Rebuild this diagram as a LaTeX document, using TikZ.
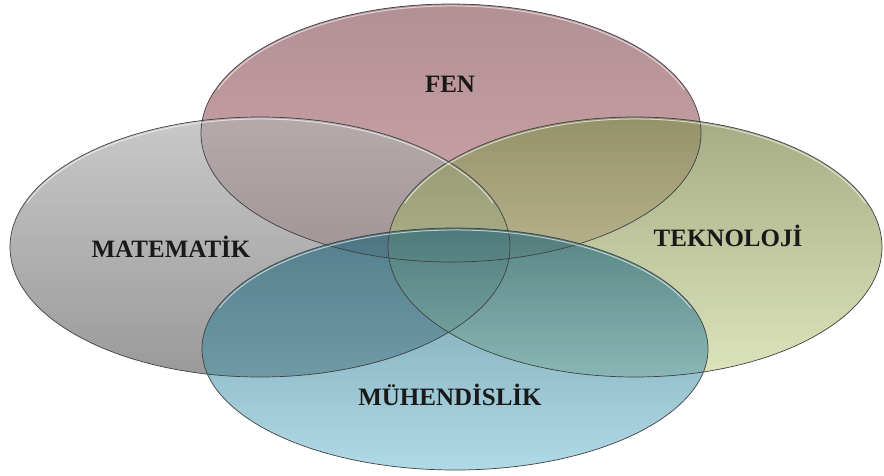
\documentclass[tikz,border=0pt]{standalone}
\usepackage{fontspec}
\setmainfont{Liberation Serif}
\definecolor{fentop}{RGB}{178,144,149}
\definecolor{fenbot}{RGB}{208,166,171}
\definecolor{mattop}{RGB}{178,178,178}
\definecolor{matbot}{RGB}{110,110,110}
\definecolor{tektop}{RGB}{135,144,91}
\definecolor{tekbot}{RGB}{208,219,166}
\definecolor{muhtop}{RGB}{20,92,115}
\definecolor{muhbot}{RGB}{122,193,213}
\begin{document}
\begin{tikzpicture}[x=1pt,y=-1pt,
          rim/.style={draw=black!75,line width=0.7pt},
          glint/.style={draw=white,line width=1pt,opacity=0.6},
          lbl/.style={font=\fontsize{25}{30}\selectfont\bfseries,text=black!90}
          ]
          \useasboundingbox (0,0) rectangle (884,476);
          % fills
          \shade[top color=fentop,bottom color=fenbot] (451,133) ellipse [x radius=250,y radius=129];
          \shade[top color=mattop,bottom color=matbot,fill opacity=0.7] (260,247) ellipse [x radius=250,y radius=130];
          \shade[top color=tektop,bottom color=tekbot,fill opacity=0.75] (635,247) ellipse [x radius=247,y radius=130];
          \shade[top color=muhtop,bottom color=muhbot,fill opacity=0.6] (455,349) ellipse [x radius=253,y radius=121];
          % rims
          \draw[rim] (260,247) ellipse [x radius=250,y radius=130];
          \draw[rim] (635,247) ellipse [x radius=247,y radius=130];
          \draw[rim] (451,133) ellipse [x radius=250,y radius=129];
          \draw[rim] (455,349) ellipse [x radius=253,y radius=121];
          \draw[glint] (260,247) ++(200:248 and 128) arc [start angle=200,end angle=340,x radius=248,y radius=128];
          \draw[glint] (635,247) ++(200:245 and 128) arc [start angle=200,end angle=340,x radius=245,y radius=128];
          \draw[glint] (451,133) ++(200:248 and 127) arc [start angle=200,end angle=340,x radius=248,y radius=127];
          \draw[glint] (455,349) ++(200:251 and 119) arc [start angle=200,end angle=340,x radius=251,y radius=119];
          \node[lbl] (fen) at (450,84)  {FEN};
          \node[lbl] (mat) at (171,247) {MATEMATİK};
          \node[lbl] (tek) at (728,236) {TEKNOLOJİ};
          \node[lbl] (muh) at (450,395) {MÜHENDİSLİK};
        \end{tikzpicture}
\end{document}
